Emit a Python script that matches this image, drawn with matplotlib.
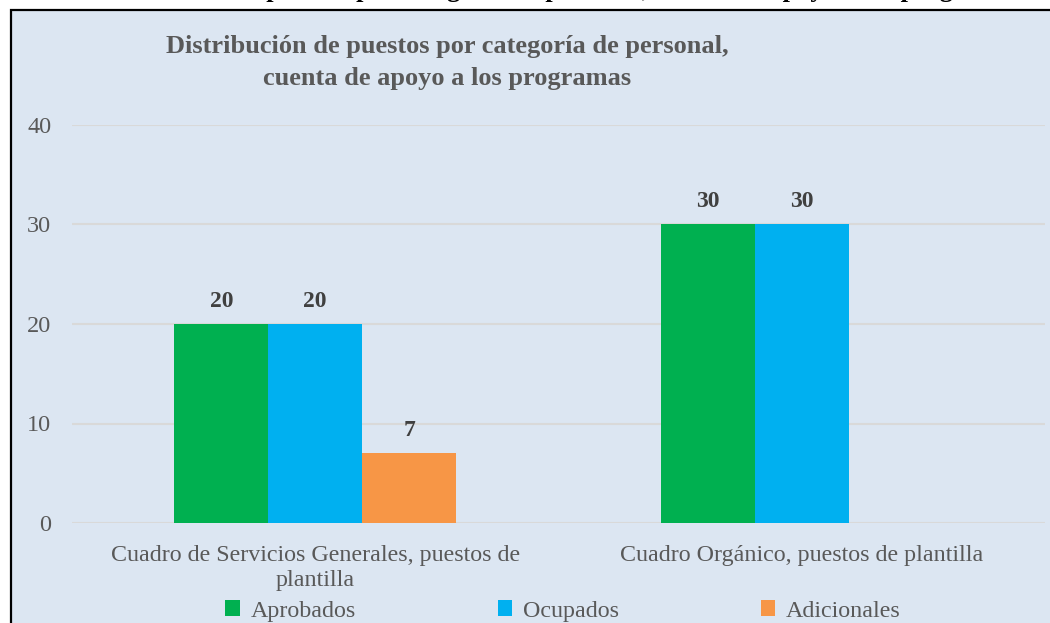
import matplotlib.pyplot as plt
import matplotlib.patches as mpatches
import numpy as np

plt.rcParams['font.family'] = ['Liberation Serif', 'DejaVu Serif']

# data
categories = ['Cuadro de Servicios Generales, puestos de\nplantilla',
              'Cuadro Orgánico, puestos de plantilla']
series_names = ['Aprobados', 'Ocupados', 'Adicionales']
aprobados = [20, 30]
ocupados = [20, 30]
adicionales = [7, 0]
yticks = [0, 10, 20, 30, 40]

title = 'Distribución de puestos por categoría de personal,\ncuenta de apoyo a los programas'
top_caption = ('Distribución de puestos por categoría de personal, '
               'cuenta de apoyo a los programas')

colors = ['#00B050', '#00B0F0', '#F79646']
bg = '#DCE6F2'
grey = '#595959'

W, H = 1050, 623
fig = plt.figure(figsize=(W / 100, H / 100), dpi=100)
fig.patch.set_facecolor('white')

# framed panel (continues past right/bottom edges)
panel = mpatches.Rectangle((10.5 / W, -0.05), 1.2, 1 - 9.5 / H + 0.05,
                           transform=fig.transFigure, facecolor=bg,
                           edgecolor='black', linewidth=1.6, zorder=-5)
fig.patches.append(panel)

# caption above the panel, cut off by the top edge of the image
fig.text(86 / W, 1 + 3.5 / H, top_caption, ha='left', va='baseline',
         fontsize=19, fontweight='bold', color='black')

ax = fig.add_axes([72 / W, 1 - 523 / H, 973 / W, 398 / H])
ax.set_facecolor('none')

x = np.arange(len(categories))
width = 0.193
series = [aprobados, ocupados, adicionales]
for i, (vals, name, c) in enumerate(zip(series, series_names, colors)):
    pos = x + (i - 1) * width
    bars = ax.bar(pos, vals, width, color=c, label=name, zorder=3)
    for b, v in zip(bars, vals):
        if v > 0:
            ax.text(b.get_x() + b.get_width() / 2, v + 1.25, str(v),
                    ha='center', va='bottom', fontsize=17,
                    fontweight='bold', color='#404040')

ax.set_xlim(-0.5, 1.5)
ax.set_ylim(0, 40)
ax.set_yticks(yticks)
ax.yaxis.grid(True, color='#D9D9D9', linewidth=1.5, zorder=0)
ax.set_axisbelow(True)
for s in ax.spines.values():
    s.set_visible(False)
ax.tick_params(axis='y', length=0, pad=15, labelsize=17.5, labelcolor=grey)
ax.tick_params(axis='x', length=0, pad=16, labelsize=17.3, labelcolor=grey)
ax.set_xticks(x)
ax.set_xticklabels(categories, linespacing=1.25)

fig.text(447 / W, 1 - 62.5 / H, title, ha='center', va='center',
         fontsize=19, fontweight='bold', color=grey, linespacing=1.45)

fig.legend(loc='center', bbox_to_anchor=(563 / W, 1 - 611 / H), ncol=3,
           frameon=False, fontsize=17.3, labelcolor=grey,
           handlelength=0.6, handleheight=0.6, handletextpad=0.45,
           columnspacing=5.9)

fig.savefig('out.png', dpi=100, facecolor=fig.get_facecolor())
